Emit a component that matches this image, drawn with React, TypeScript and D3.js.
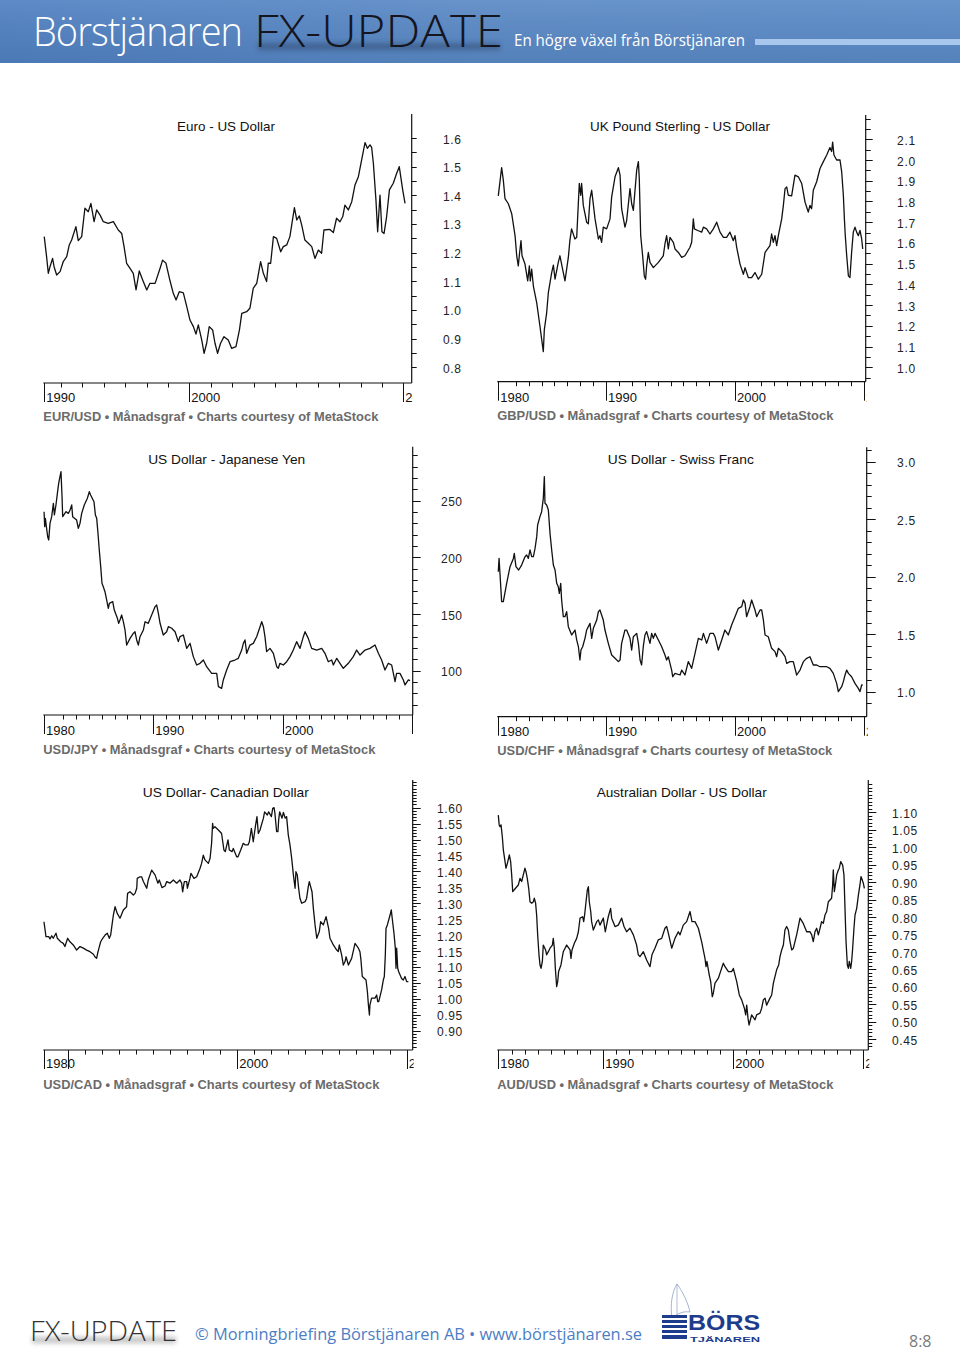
import React from 'react';
import * as d3 from 'd3';

type Pt = [number, number];

// ---------- DATA (year, rate) ----------
const eurUsd: Pt[] = [[1993.22,1.256],[1993.33,1.186],[1993.41,1.128],[1993.49,1.151],[1993.61,1.180],[1993.68,1.151],[1993.80,1.122],[1993.96,1.134],[1994.11,1.169],[1994.27,1.186],[1994.39,1.227],[1994.50,1.244],[1994.70,1.291],[1994.81,1.242],[1994.97,1.256],[1995.12,1.355],[1995.28,1.343],[1995.40,1.372],[1995.55,1.308],[1995.67,1.349],[1995.83,1.331],[1995.98,1.308],[1996.21,1.302],[1996.45,1.308],[1996.68,1.279],[1996.84,1.267],[1996.95,1.221],[1997.07,1.163],[1997.23,1.145],[1997.38,1.128],[1997.51,1.070],[1997.66,1.136],[1997.82,1.105],[1998.01,1.070],[1998.16,1.093],[1998.40,1.093],[1998.63,1.145],[1998.75,1.174],[1998.91,1.163],[1999.07,1.110],[1999.25,1.058],[1999.38,1.035],[1999.53,1.064],[1999.72,1.060],[1999.88,1.012],[2000.03,0.965],[2000.19,0.942],[2000.31,0.916],[2000.42,0.948],[2000.58,0.895],[2000.69,0.849],[2000.81,0.884],[2000.93,0.942],[2001.09,0.930],[2001.20,0.884],[2001.32,0.849],[2001.46,0.884],[2001.62,0.907],[2001.82,0.895],[2001.98,0.866],[2002.18,0.872],[2002.34,0.930],[2002.45,0.988],[2002.68,0.994],[2002.83,1.006],[2002.99,1.076],[2003.15,1.093],[2003.33,1.169],[2003.46,1.128],[2003.61,1.099],[2003.69,1.163],[2003.80,1.163],[2003.93,1.256],[2004.08,1.250],[2004.27,1.203],[2004.39,1.221],[2004.55,1.227],[2004.70,1.256],[2004.91,1.357],[2005.02,1.314],[2005.14,1.328],[2005.25,1.297],[2005.40,1.244],[2005.56,1.233],[2005.72,1.221],[2005.87,1.180],[2006.03,1.209],[2006.18,1.198],[2006.29,1.279],[2006.57,1.281],[2006.73,1.270],[2006.88,1.320],[2007.04,1.308],[2007.17,1.326],[2007.27,1.366],[2007.43,1.349],[2007.59,1.378],[2007.74,1.436],[2007.90,1.465],[2008.05,1.523],[2008.21,1.584],[2008.32,1.564],[2008.44,1.576],[2008.52,1.567],[2008.60,1.512],[2008.72,1.384],[2008.80,1.273],[2008.91,1.401],[2009.00,1.273],[2009.10,1.267],[2009.22,1.326],[2009.35,1.419],[2009.53,1.442],[2009.69,1.477],[2009.81,1.500],[2009.97,1.419],[2010.08,1.372]];

const gbpUsd: Pt[] = [[1981.65,1.827],[1981.91,1.963],[1982.04,1.903],[1982.17,1.814],[1982.43,1.789],[1982.69,1.741],[1982.95,1.635],[1983.08,1.538],[1983.20,1.489],[1983.28,1.538],[1983.41,1.611],[1983.49,1.538],[1983.72,1.498],[1983.93,1.417],[1984.06,1.489],[1984.13,1.417],[1984.24,1.473],[1984.37,1.392],[1984.63,1.311],[1984.88,1.198],[1985.14,1.076],[1985.22,1.182],[1985.40,1.263],[1985.53,1.360],[1985.79,1.457],[1985.92,1.493],[1986.05,1.425],[1986.30,1.506],[1986.43,1.538],[1986.69,1.457],[1986.82,1.417],[1987.08,1.530],[1987.20,1.611],[1987.33,1.668],[1987.59,1.619],[1987.73,1.627],[1987.86,1.797],[1987.93,1.887],[1988.04,1.830],[1988.11,1.887],[1988.24,1.781],[1988.50,1.700],[1988.63,1.692],[1988.76,1.814],[1988.89,1.854],[1989.15,1.716],[1989.41,1.619],[1989.53,1.635],[1989.66,1.603],[1989.79,1.676],[1990.05,1.668],[1990.31,1.716],[1990.44,1.822],[1990.70,1.919],[1990.96,1.963],[1991.09,1.927],[1991.21,1.765],[1991.47,1.676],[1991.60,1.708],[1991.86,1.862],[1991.99,1.789],[1992.12,1.757],[1992.38,1.951],[1992.51,1.992],[1992.58,1.911],[1992.69,1.635],[1992.84,1.538],[1992.97,1.441],[1993.07,1.425],[1993.15,1.489],[1993.28,1.554],[1993.41,1.506],[1993.67,1.481],[1994.06,1.506],[1994.44,1.538],[1994.57,1.595],[1994.70,1.635],[1994.83,1.571],[1994.96,1.627],[1995.22,1.603],[1995.35,1.571],[1995.61,1.554],[1995.87,1.530],[1996.12,1.538],[1996.51,1.579],[1996.64,1.603],[1996.77,1.716],[1996.85,1.668],[1997.11,1.660],[1997.42,1.652],[1997.55,1.676],[1997.80,1.668],[1998.06,1.643],[1998.32,1.668],[1998.58,1.700],[1998.84,1.652],[1999.10,1.627],[1999.35,1.627],[1999.61,1.652],[1999.87,1.611],[2000.00,1.635],[2000.13,1.579],[2000.39,1.498],[2000.65,1.449],[2000.78,1.481],[2001.03,1.433],[2001.29,1.433],[2001.55,1.457],[2001.81,1.425],[2002.07,1.449],[2002.33,1.554],[2002.71,1.587],[2002.84,1.643],[2002.97,1.603],[2003.10,1.635],[2003.23,1.587],[2003.36,1.635],[2003.62,1.716],[2003.75,1.781],[2003.88,1.862],[2004.01,1.870],[2004.13,1.830],[2004.39,1.827],[2004.65,1.927],[2004.91,1.919],[2005.17,1.887],[2005.43,1.797],[2005.68,1.749],[2005.81,1.781],[2005.94,1.765],[2006.07,1.854],[2006.33,1.895],[2006.59,1.959],[2006.85,1.992],[2007.11,2.024],[2007.36,2.060],[2007.49,2.041],[2007.57,2.086],[2007.67,2.024],[2007.88,2.000],[2008.14,2.000],[2008.27,1.943],[2008.40,1.830],[2008.48,1.716],[2008.55,1.635],[2008.66,1.538],[2008.79,1.441],[2008.91,1.433],[2009.04,1.554],[2009.17,1.652],[2009.30,1.676],[2009.43,1.652],[2009.56,1.635],[2009.69,1.660],[2009.82,1.619],[2009.90,1.571]];

const usdJpy: Pt[] = [[1981.55,240.3],[1981.60,227.1],[1981.65,234.4],[1981.83,218.2],[1981.91,215.3],[1982.01,230.0],[1982.14,235.9],[1982.27,247.6],[1982.35,237.4],[1982.47,246.2],[1982.58,256.5],[1982.68,265.3],[1982.78,271.2],[1982.86,275.6],[1982.94,253.5],[1982.99,235.9],[1983.25,240.3],[1983.43,238.8],[1983.56,241.8],[1983.69,246.2],[1983.76,235.9],[1984.07,232.9],[1984.20,225.6],[1984.33,230.0],[1984.46,238.8],[1984.66,246.2],[1984.90,252.1],[1985.05,257.9],[1985.15,255.0],[1985.41,249.1],[1985.52,237.4],[1985.62,234.4],[1985.72,221.2],[1985.82,206.5],[1985.93,191.8],[1986.03,177.1],[1986.13,174.1],[1986.26,169.7],[1986.39,162.4],[1986.52,155.0],[1986.60,159.4],[1986.86,160.9],[1986.98,153.5],[1987.22,146.2],[1987.32,141.8],[1987.42,144.7],[1987.55,149.1],[1987.68,143.2],[1987.81,135.9],[1987.94,122.6],[1988.20,128.5],[1988.45,132.9],[1988.58,134.4],[1988.71,127.1],[1988.84,122.6],[1988.97,130.0],[1989.23,135.9],[1989.36,143.2],[1989.61,141.8],[1989.87,149.1],[1990.13,156.5],[1990.26,157.9],[1990.39,150.6],[1990.52,141.8],[1990.77,131.5],[1991.03,134.4],[1991.16,138.8],[1991.42,137.4],[1991.68,134.4],[1991.93,125.6],[1992.06,130.0],[1992.32,131.5],[1992.58,119.7],[1992.84,124.1],[1993.09,112.4],[1993.35,105.0],[1993.61,106.5],[1993.87,109.4],[1994.12,103.5],[1994.51,97.6],[1994.90,97.6],[1995.03,85.9],[1995.28,84.4],[1995.41,91.8],[1995.67,100.6],[1995.93,107.9],[1996.31,109.4],[1996.57,110.9],[1996.83,118.2],[1996.96,124.1],[1997.09,127.1],[1997.22,115.3],[1997.47,122.6],[1997.73,124.1],[1997.99,130.0],[1998.25,138.8],[1998.38,143.2],[1998.51,138.8],[1998.63,130.0],[1998.76,116.8],[1999.02,119.7],[1999.28,115.3],[1999.54,103.5],[1999.66,102.1],[1999.79,106.5],[2000.05,105.0],[2000.31,107.9],[2000.57,112.4],[2000.82,118.2],[2001.08,125.6],[2001.34,119.7],[2001.60,130.0],[2001.73,134.4],[2001.98,128.5],[2002.24,119.7],[2002.63,118.2],[2003.02,119.7],[2003.27,115.3],[2003.53,107.9],[2003.79,109.4],[2003.92,105.0],[2004.18,110.9],[2004.43,106.5],[2004.69,102.1],[2005.08,106.5],[2005.46,112.4],[2005.72,118.2],[2005.98,113.8],[2006.37,118.2],[2006.75,119.7],[2007.14,122.6],[2007.40,115.3],[2007.65,109.4],[2007.91,100.6],[2008.17,106.5],[2008.43,105.0],[2008.56,97.6],[2008.69,90.3],[2008.81,97.6],[2009.07,97.6],[2009.33,91.8],[2009.46,87.4],[2009.72,91.8],[2009.85,91.2]];

const usdChf: Pt[] = [[1981.65,2.043],[1981.71,2.159],[1981.78,2.029],[1981.91,1.783],[1982.04,1.783],[1982.30,1.942],[1982.56,2.087],[1982.82,2.159],[1982.89,2.203],[1983.02,2.087],[1983.23,2.058],[1983.46,2.101],[1983.72,2.174],[1983.85,2.188],[1983.98,2.159],[1984.11,2.232],[1984.24,2.174],[1984.37,2.174],[1984.50,2.246],[1984.63,2.348],[1984.70,2.449],[1984.88,2.522],[1985.01,2.565],[1985.14,2.681],[1985.22,2.870],[1985.27,2.638],[1985.40,2.623],[1985.53,2.580],[1985.66,2.377],[1985.79,2.232],[1985.92,2.101],[1986.05,2.058],[1986.18,1.942],[1986.30,1.913],[1986.38,1.855],[1986.49,1.942],[1986.56,1.797],[1986.69,1.652],[1986.82,1.652],[1986.95,1.696],[1987.08,1.565],[1987.34,1.493],[1987.60,1.536],[1987.73,1.449],[1987.86,1.391],[1987.98,1.275],[1988.06,1.362],[1988.19,1.391],[1988.37,1.464],[1988.50,1.536],[1988.76,1.594],[1988.89,1.464],[1989.02,1.551],[1989.28,1.623],[1989.41,1.696],[1989.53,1.710],[1989.79,1.623],[1989.92,1.536],[1990.18,1.420],[1990.44,1.319],[1990.70,1.290],[1990.96,1.261],[1991.09,1.275],[1991.21,1.420],[1991.47,1.536],[1991.60,1.536],[1991.86,1.464],[1991.99,1.362],[1992.12,1.478],[1992.38,1.507],[1992.51,1.420],[1992.64,1.275],[1992.76,1.232],[1992.89,1.391],[1993.02,1.493],[1993.15,1.522],[1993.41,1.420],[1993.54,1.507],[1993.67,1.464],[1993.80,1.507],[1994.06,1.449],[1994.32,1.391],[1994.57,1.319],[1994.70,1.275],[1994.83,1.304],[1995.09,1.188],[1995.17,1.130],[1995.35,1.159],[1995.74,1.145],[1995.87,1.188],[1996.12,1.145],[1996.38,1.261],[1996.64,1.203],[1996.90,1.333],[1997.16,1.464],[1997.42,1.449],[1997.55,1.507],[1997.80,1.420],[1998.06,1.507],[1998.32,1.507],[1998.45,1.478],[1998.71,1.362],[1998.97,1.449],[1999.22,1.536],[1999.48,1.493],[1999.74,1.580],[2000.00,1.652],[2000.26,1.725],[2000.52,1.739],[2000.65,1.797],[2000.78,1.768],[2000.90,1.652],[2001.16,1.739],[2001.29,1.797],[2001.55,1.710],[2001.68,1.652],[2001.94,1.710],[2002.07,1.710],[2002.20,1.623],[2002.33,1.493],[2002.58,1.478],[2002.84,1.377],[2003.10,1.348],[2003.23,1.304],[2003.36,1.377],[2003.62,1.348],[2003.88,1.304],[2004.01,1.246],[2004.26,1.261],[2004.52,1.261],[2004.65,1.203],[2004.78,1.145],[2005.04,1.188],[2005.30,1.261],[2005.56,1.290],[2005.81,1.304],[2006.07,1.232],[2006.33,1.232],[2006.59,1.217],[2006.85,1.217],[2007.11,1.217],[2007.36,1.203],[2007.62,1.159],[2007.88,1.072],[2008.01,1.000],[2008.27,1.043],[2008.40,1.087],[2008.53,1.145],[2008.66,1.188],[2008.79,1.159],[2009.04,1.130],[2009.30,1.072],[2009.56,1.029],[2009.69,1.000],[2009.82,1.058],[2009.90,1.058]];

const usdCad: Pt[] = [[1988.58,1.242],[1988.62,1.227],[1988.70,1.195],[1988.86,1.195],[1988.94,1.188],[1989.04,1.198],[1989.13,1.190],[1989.29,1.206],[1989.37,1.190],[1989.57,1.179],[1989.72,1.174],[1989.82,1.164],[1989.98,1.190],[1990.12,1.179],[1990.31,1.169],[1990.51,1.153],[1990.71,1.164],[1990.91,1.159],[1991.10,1.153],[1991.30,1.148],[1991.50,1.140],[1991.59,1.132],[1991.69,1.127],[1991.75,1.143],[1991.83,1.159],[1991.93,1.179],[1992.05,1.190],[1992.19,1.200],[1992.32,1.206],[1992.44,1.190],[1992.52,1.200],[1992.60,1.232],[1992.68,1.263],[1992.78,1.289],[1992.91,1.268],[1993.07,1.253],[1993.27,1.279],[1993.46,1.289],[1993.52,1.331],[1993.66,1.336],[1993.86,1.326],[1993.96,1.331],[1994.06,1.347],[1994.09,1.378],[1994.25,1.383],[1994.35,1.383],[1994.45,1.368],[1994.65,1.347],[1994.74,1.373],[1994.94,1.404],[1995.14,1.389],[1995.31,1.363],[1995.39,1.373],[1995.55,1.349],[1995.73,1.354],[1995.83,1.368],[1996.02,1.363],[1996.22,1.373],[1996.42,1.363],[1996.61,1.373],[1996.71,1.363],[1996.77,1.336],[1996.87,1.368],[1997.01,1.368],[1997.05,1.347],[1997.20,1.378],[1997.26,1.394],[1997.44,1.378],[1997.60,1.383],[1997.80,1.410],[1997.89,1.425],[1997.99,1.451],[1998.09,1.436],[1998.29,1.425],[1998.39,1.441],[1998.48,1.488],[1998.54,1.551],[1998.58,1.535],[1998.68,1.540],[1998.88,1.530],[1999.07,1.519],[1999.21,1.467],[1999.29,1.462],[1999.45,1.499],[1999.53,1.467],[1999.69,1.462],[1999.76,1.472],[1999.96,1.446],[2000.04,1.446],[2000.20,1.467],[2000.35,1.488],[2000.47,1.483],[2000.63,1.483],[2000.71,1.493],[2000.83,1.535],[2000.94,1.493],[2001.08,1.546],[2001.16,1.572],[2001.24,1.519],[2001.34,1.530],[2001.54,1.567],[2001.61,1.587],[2001.77,1.577],[2001.85,1.587],[2002.01,1.572],[2002.09,1.598],[2002.17,1.600],[2002.22,1.582],[2002.32,1.525],[2002.40,1.525],[2002.44,1.561],[2002.50,1.587],[2002.64,1.567],[2002.72,1.585],[2002.83,1.567],[2002.91,1.572],[2003.01,1.514],[2003.11,1.483],[2003.21,1.441],[2003.31,1.389],[2003.41,1.347],[2003.46,1.399],[2003.54,1.389],[2003.62,1.347],[2003.70,1.315],[2003.80,1.300],[2004.00,1.305],[2004.09,1.315],[2004.19,1.352],[2004.25,1.368],[2004.41,1.336],[2004.49,1.284],[2004.59,1.232],[2004.69,1.190],[2004.84,1.211],[2004.92,1.242],[2005.08,1.232],[2005.24,1.258],[2005.39,1.221],[2005.47,1.190],[2005.67,1.169],[2005.87,1.153],[2005.96,1.148],[2006.02,1.169],[2006.16,1.138],[2006.26,1.106],[2006.36,1.117],[2006.42,1.132],[2006.56,1.106],[2006.75,1.127],[2006.95,1.174],[2007.15,1.159],[2007.24,1.148],[2007.30,1.122],[2007.38,1.070],[2007.60,1.059],[2007.68,1.023],[2007.74,0.981],[2007.80,0.949],[2007.83,0.981],[2007.93,1.002],[2008.13,1.002],[2008.23,1.012],[2008.29,0.991],[2008.35,0.991],[2008.52,1.028],[2008.62,1.059],[2008.68,1.070],[2008.74,1.138],[2008.78,1.221],[2008.86,1.232],[2009.02,1.263],[2009.09,1.279],[2009.17,1.242],[2009.25,1.206],[2009.33,1.159],[2009.37,1.096],[2009.41,1.159],[2009.47,1.096],[2009.53,1.085],[2009.70,1.064],[2009.80,1.059],[2009.90,1.070],[2010.00,1.054],[2010.10,1.054]];

const audUsd: Pt[] = [[1981.92,1.092],[1981.99,1.064],[1982.05,1.059],[1982.13,1.064],[1982.23,1.030],[1982.31,0.992],[1982.44,0.959],[1982.51,0.940],[1982.62,0.954],[1982.77,0.978],[1982.87,0.959],[1982.95,0.921],[1983.03,0.873],[1983.23,0.882],[1983.46,0.892],[1983.59,0.911],[1983.72,0.902],[1983.97,0.940],[1984.05,0.930],[1984.15,0.911],[1984.26,0.882],[1984.36,0.844],[1984.49,0.840],[1984.62,0.844],[1984.69,0.854],[1984.79,0.840],[1984.87,0.806],[1984.95,0.749],[1985.05,0.692],[1985.13,0.663],[1985.21,0.653],[1985.31,0.673],[1985.38,0.720],[1985.56,0.706],[1985.64,0.692],[1985.77,0.701],[1985.90,0.711],[1986.08,0.720],[1986.15,0.739],[1986.23,0.711],[1986.31,0.653],[1986.41,0.601],[1986.49,0.615],[1986.56,0.644],[1986.74,0.663],[1986.92,0.701],[1987.18,0.720],[1987.44,0.706],[1987.51,0.682],[1987.59,0.706],[1987.77,0.725],[1987.95,0.739],[1988.08,0.758],[1988.21,0.797],[1988.41,0.801],[1988.49,0.787],[1988.56,0.806],[1988.67,0.844],[1988.77,0.878],[1988.85,0.887],[1988.92,0.844],[1989.03,0.816],[1989.10,0.787],[1989.23,0.763],[1989.49,0.787],[1989.62,0.792],[1989.74,0.777],[1990.00,0.797],[1990.15,0.758],[1990.38,0.801],[1990.56,0.825],[1990.64,0.797],[1990.90,0.773],[1991.15,0.777],[1991.41,0.797],[1991.59,0.773],[1991.79,0.758],[1992.05,0.768],[1992.31,0.749],[1992.56,0.720],[1992.69,0.692],[1992.82,0.687],[1993.08,0.701],[1993.33,0.677],[1993.59,0.658],[1993.74,0.692],[1993.97,0.711],[1994.23,0.735],[1994.49,0.739],[1994.74,0.768],[1994.87,0.773],[1995.00,0.754],[1995.26,0.711],[1995.51,0.739],[1995.77,0.758],[1995.90,0.749],[1996.15,0.777],[1996.41,0.787],[1996.67,0.816],[1996.82,0.787],[1997.05,0.787],[1997.31,0.768],[1997.56,0.730],[1997.82,0.682],[1997.90,0.658],[1997.97,0.673],[1998.15,0.634],[1998.26,0.615],[1998.38,0.572],[1998.46,0.582],[1998.59,0.611],[1998.85,0.625],[1998.97,0.639],[1999.23,0.668],[1999.36,0.658],[1999.62,0.644],[1999.87,0.644],[2000.00,0.653],[2000.26,0.615],[2000.46,0.577],[2000.64,0.563],[2000.85,0.539],[2000.95,0.520],[2001.03,0.548],[2001.13,0.510],[2001.21,0.491],[2001.28,0.501],[2001.41,0.520],[2001.67,0.506],[2001.79,0.520],[2002.05,0.525],[2002.18,0.539],[2002.31,0.563],[2002.44,0.568],[2002.56,0.548],[2002.82,0.568],[2002.95,0.577],[2003.08,0.611],[2003.33,0.649],[2003.49,0.663],[2003.59,0.687],[2003.72,0.706],[2003.85,0.720],[2003.97,0.763],[2004.10,0.773],[2004.23,0.763],[2004.36,0.730],[2004.49,0.706],[2004.62,0.711],[2004.87,0.749],[2005.00,0.773],[2005.13,0.797],[2005.38,0.782],[2005.64,0.758],[2005.90,0.758],[2006.03,0.749],[2006.15,0.730],[2006.28,0.758],[2006.41,0.768],[2006.54,0.749],[2006.67,0.768],[2006.79,0.787],[2006.92,0.782],[2007.05,0.806],[2007.18,0.816],[2007.31,0.844],[2007.56,0.854],[2007.64,0.892],[2007.69,0.935],[2007.77,0.873],[2007.85,0.892],[2007.95,0.921],[2008.08,0.935],[2008.15,0.940],[2008.26,0.959],[2008.41,0.949],[2008.51,0.921],[2008.59,0.825],[2008.67,0.730],[2008.77,0.663],[2008.85,0.653],[2008.92,0.673],[2009.03,0.653],[2009.10,0.673],[2009.18,0.711],[2009.28,0.768],[2009.36,0.806],[2009.49,0.825],[2009.62,0.863],[2009.74,0.892],[2009.82,0.916],[2009.92,0.906],[2010.00,0.897],[2010.08,0.882]];

// ---------- TICK LABELS ----------
const eurYLabels = [0.8, 0.9, 1.0, 1.1, 1.2, 1.3, 1.4, 1.5, 1.6];
const gbpYLabels = [1.0, 1.1, 1.2, 1.3, 1.4, 1.5, 1.6, 1.7, 1.8, 1.9, 2.0, 2.1];
const jpyYLabels = [100, 150, 200, 250];
const chfYLabels = [1.0, 1.5, 2.0, 2.5, 3.0];
const cadYLabels = [0.9, 0.95, 1.0, 1.05, 1.1, 1.15, 1.2, 1.25, 1.3, 1.35, 1.4, 1.45, 1.5, 1.55, 1.6];
const audYLabels = [0.45, 0.5, 0.55, 0.6, 0.65, 0.7, 0.75, 0.8, 0.85, 0.9, 0.95, 1.0, 1.05, 1.1];

const eurXLabels: [number, string][] = [[1993.22, '1990'], [2000, '2000'], [2010, '2010']];
const gbpXLabels: [number, string][] = [[1981.65, '1980'], [1990, '1990'], [2000, '2000'], [2010, '2010']];
const jpyXLabels: [number, string][] = [[1981.55, '1980'], [1990, '1990'], [2000, '2000'], [2010, '2010']];
const chfXLabels: [number, string][] = [[1981.65, '1980'], [1990, '1990'], [2000, '2000'], [2010, '2010']];
const cadXLabels: [number, string][] = [[1988.58, '1980'], [1990, ''], [2000, '2000'], [2010, '2010']];
const audXLabels: [number, string][] = [[1981.92, '1980'], [1990, '1990'], [2000, '2000'], [2010, '2010']];

const FONT = "'Liberation Sans', Arial, Helvetica, sans-serif";
const HFONT = "'Open Sans', 'DejaVu Sans', sans-serif";

interface Spec {
  id: string;
  title: string; titleX: number; titleY: number; titleW: number;
  caption: string; captionW: number; captionY: number;
  data: Pt[];
  xLabels: [number, string][];
  yLabels: number[]; fmt: string;
  xPx: [number, number];
  yDom: [number, number]; yPx: [number, number];
  left: number; right: number; top: number; base: number;
  minor: [number, number, number];
  majorLen: number; minorLen: number;
  labelX: number; labelSpacing: number;
  xLabelY: number;
}

const specs: Spec[] = [
  { id: 'eur', title: 'Euro - US Dollar', titleX: 226, titleY: 131, titleW: 98,
    caption: 'EUR/USD • Månadsgraf • Charts courtesy of MetaStock', captionW: 335, captionY: 420.5,
    data: eurUsd, xLabels: eurXLabels, yLabels: eurYLabels, fmt: '.1f',
    xPx: [189.33, 403.33], yDom: [0.8, 1.6], yPx: [367.33, 138],
    left: 43.3, right: 411.7, top: 114, base: 383, minor: [0.8, 1.6, 0.05],
    majorLen: 5, minorLen: 5, labelX: 443, labelSpacing: 0.6, xLabelY: 401.7 },
  { id: 'gbp', title: 'UK Pound Sterling - US Dollar', titleX: 680, titleY: 131, titleW: 180,
    caption: 'GBP/USD • Månadsgraf • Charts courtesy of MetaStock', captionW: 336, captionY: 420,
    data: gbpUsd, xLabels: gbpXLabels, yLabels: gbpYLabels, fmt: '.1f',
    xPx: [735, 864], yDom: [1.0, 2.0], yPx: [367.33, 160],
    left: 497.3, right: 865.7, top: 115, base: 381.7, minor: [0.95, 2.2, 0.05],
    majorLen: 7, minorLen: 5, labelX: 897, labelSpacing: 0.8, xLabelY: 401.7 },
  { id: 'jpy', title: 'US Dollar - Japanese Yen', titleX: 226.7, titleY: 464, titleW: 157,
    caption: 'USD/JPY • Månadsgraf • Charts courtesy of MetaStock', captionW: 332, captionY: 753.5,
    data: usdJpy, xLabels: jpyXLabels, yLabels: jpyYLabels, fmt: 'd',
    xPx: [282.67, 412], yDom: [100, 250], yPx: [670.67, 500.67],
    left: 43.3, right: 412.7, top: 446.7, base: 715, minor: [70, 290, 10],
    majorLen: 8, minorLen: 5, labelX: 441, labelSpacing: 0.5, xLabelY: 735 },
  { id: 'chf', title: 'US Dollar - Swiss Franc', titleX: 680.8, titleY: 464, titleW: 146,
    caption: 'USD/CHF • Månadsgraf • Charts courtesy of MetaStock', captionW: 335, captionY: 755,
    data: usdChf, xLabels: chfXLabels, yLabels: chfYLabels, fmt: '.1f',
    xPx: [735, 864], yDom: [1.0, 3.0], yPx: [691.67, 461.67],
    left: 497.3, right: 866.7, top: 447.3, base: 716.7, minor: [0.9, 3.1, 0.1],
    majorLen: 9, minorLen: 5, labelX: 897, labelSpacing: 0.8, xLabelY: 736 },
  { id: 'cad', title: 'US Dollar- Canadian Dollar', titleX: 225.8, titleY: 797, titleW: 166,
    caption: 'USD/CAD • Månadsgraf • Charts courtesy of MetaStock', captionW: 336, captionY: 1088.5,
    data: usdCad, xLabels: cadXLabels, yLabels: cadYLabels, fmt: '.2f',
    xPx: [237.33, 406.67], yDom: [0.9, 1.6], yPx: [1030.67, 807.67],
    left: 43.3, right: 412.7, top: 780, base: 1050, minor: [0.84, 1.68, 0.01],
    majorLen: 8, minorLen: 4, labelX: 437, labelSpacing: 0.6, xLabelY: 1068.3 },
  { id: 'aud', title: 'Australian Dollar - US Dollar', titleX: 681.7, titleY: 797, titleW: 170,
    caption: 'AUD/USD • Månadsgraf • Charts courtesy of MetaStock', captionW: 336, captionY: 1088.5,
    data: audUsd, xLabels: audXLabels, yLabels: audYLabels, fmt: '.2f',
    xPx: [733.33, 863.33], yDom: [0.45, 1.1], yPx: [1039.33, 812.33],
    left: 497.3, right: 868.3, top: 780, base: 1050, minor: [0.43, 1.19, 0.01],
    majorLen: 8, minorLen: 4, labelX: 892, labelSpacing: 0.6, xLabelY: 1068.3 },
];

function Chart({ s }: { s: Spec }) {
  const x = d3.scaleLinear().domain([2000, 2010]).range(s.xPx);
  const y = d3.scaleLinear().domain(s.yDom).range(s.yPx);
  const line = d3.line<Pt>().x(d => x(d[0])).y(d => y(d[1]));
  const fmt = d3.format(s.fmt);
  const [m0, m1, step] = s.minor;
  const n = Math.round((m1 - m0) / step);
  const minorVals = d3.range(0, n + 1).map(i => +(m0 + i * step).toFixed(4))
    .filter(v => y(v) > s.top + 2 && y(v) < s.base - 2);
  const isMajor = (v: number) => s.yLabels.some(l => Math.abs(l - v) < 1e-6);
  const startYear = s.data[0][0];
  const minorYears = d3.range(Math.ceil(startYear), 2010)
    .filter(yr => !s.xLabels.some(l => Math.abs(l[0] - yr) < 0.01) && x(yr) - x(startYear) > 9);
  const clipId = `clip-${s.id}`;
  return (
    <g>
      <defs>
        <clipPath id={clipId}>
          <rect x={s.left - 5} y={s.base} width={s.right - s.left + 6} height={30} />
        </clipPath>
      </defs>
      <text x={s.titleX} y={s.titleY} textAnchor="middle" fontFamily={FONT} fontSize={13}
        fill="#111" textLength={s.titleW} lengthAdjust="spacingAndGlyphs">{s.title}</text>
      <line x1={s.right} x2={s.right} y1={s.top} y2={s.base} stroke="#111" strokeWidth={1.2} />
      <line x1={s.left} x2={s.right} y1={s.base} y2={s.base} stroke="#111" strokeWidth={1.2} />
      {minorVals.map(v => (
        <line key={'yt' + v} x1={s.right} x2={s.right + (isMajor(v) ? s.majorLen : s.minorLen)}
          y1={Math.round(y(v)) + 0.5} y2={Math.round(y(v)) + 0.5} stroke="#111" strokeWidth={1} />
      ))}
      {s.yLabels.map(v => (
        <text key={'yl' + v} x={s.labelX} y={y(v) + 1.5} dominantBaseline="central"
          fontFamily={FONT} fontSize={12} fill="#222" letterSpacing={s.labelSpacing}>{fmt(v)}</text>
      ))}
      {minorYears.map(yr => (
        <line key={'xt' + yr} x1={Math.round(x(yr)) + 0.5} x2={Math.round(x(yr)) + 0.5}
          y1={s.base} y2={s.base + 4.5} stroke="#111" strokeWidth={1} />
      ))}
      <g clipPath={`url(#${clipId})`}>
        {s.xLabels.map(([yr, lab]) => (
          <g key={'xl' + yr}>
            <line x1={Math.round(x(yr)) + 0.5} x2={Math.round(x(yr)) + 0.5} y1={s.base} y2={s.base + 19}
              stroke="#111" strokeWidth={1} />
            {lab && <text x={x(yr) + 2} y={s.xLabelY} fontFamily={FONT} fontSize={13} fill="#111">{lab}</text>}
          </g>
        ))}
      </g>
      <path d={line(s.data) || ''} fill="none" stroke="#111" strokeWidth={1.3} strokeLinejoin="round" />
      <text x={s.left} y={s.captionY} fontFamily={FONT} fontSize={13} fontWeight="bold" fill="#6b6b6b"
        textLength={s.captionW} lengthAdjust="spacingAndGlyphs">{s.caption}</text>
    </g>
  );
}

export default function App() {
  return (
    <svg width={960} height={1357} style={{ position: 'absolute', left: 0, top: 0, background: '#fff' }}>
      <defs>
        <linearGradient id="hdr" x1="0" y1="0" x2="1" y2="0">
          <stop offset="0" stopColor="#5081c2" />
          <stop offset="0.5" stopColor="#5a89c6" />
          <stop offset="1" stopColor="#5b8bc8" />
        </linearGradient>
        <linearGradient id="hdrV" x1="0" y1="0" x2="0" y2="1">
          <stop offset="0" stopColor="#ffffff" stopOpacity="0.08" />
          <stop offset="1" stopColor="#000000" stopOpacity="0.06" />
        </linearGradient>
        <filter id="blur" x="-20%" y="-100%" width="140%" height="300%">
          <feGaussianBlur stdDeviation="2.5" />
        </filter>
      </defs>
      {/* header */}
      <rect x={0} y={0} width={960} height={63} fill="url(#hdr)" />
      <rect x={0} y={0} width={960} height={63} fill="url(#hdrV)" />
      <rect x={258} y={43} width={242} height={7} fill="#1a2a45" opacity={0.35} filter="url(#blur)" />
      <text x={33} y={46} fontFamily={HFONT} fontWeight={300} fontSize={40} letterSpacing={-1}
        fill="#ffffff" textLength={209} lengthAdjust="spacingAndGlyphs">Börstjänaren</text>
      <text x={254} y={47} fontFamily={HFONT} fontWeight={300} fontSize={45}
        fill="#15151f" textLength={249} lengthAdjust="spacingAndGlyphs">FX-UPDATE</text>
      <text x={514} y={46} fontFamily={HFONT} fontSize={16}
        fill="#ffffff" textLength={231} lengthAdjust="spacingAndGlyphs">En högre växel från Börstjänaren</text>
      <rect x={755} y={39} width={205} height={6} fill="#a9c6ec" />

      {specs.map(s => <Chart key={s.id} s={s} />)}

      {/* footer */}
      <rect x={32} y={1337} width={144} height={6} fill="#777" opacity={0.45} filter="url(#blur)" />
      <text x={30} y={1341} fontFamily={HFONT} fontWeight={300} fontSize={28}
        fill="#333" textLength={147} lengthAdjust="spacingAndGlyphs">FX-UPDATE</text>
      <text x={195} y={1340} fontFamily={HFONT} fontSize={17}
        fill="#4d7dc4" textLength={447} lengthAdjust="spacingAndGlyphs">© Morningbriefing Börstjänaren AB • www.börstjänaren.se</text>
      <g>
        <path d="M672,1318 C670,1305 672,1292 677,1284 C683,1292 688,1303 690,1312 C684,1311 678,1313 672,1318 Z"
          fill="none" stroke="#9aaccc" strokeWidth={0.9} />
        <line x1={677} y1={1284} x2={677} y2={1317} stroke="#9aaccc" strokeWidth={0.8} />
        {[1315, 1320, 1325, 1330].map(yy => (
          <rect key={yy} x={662} y={yy} width={25} height={3} fill="#1e3c8c" />
        ))}
        <rect x={662} y={1335} width={25} height={4} fill="#1e3c8c" />
        <text x={688} y={1330} fontFamily={FONT} fontWeight="bold" fontSize={22} fill="#1e3c8c"
          textLength={72} lengthAdjust="spacingAndGlyphs">BÖRS</text>
        <text x={690} y={1342} fontFamily={FONT} fontWeight="bold" fontSize={8} fill="#1e3c8c"
          textLength={70} lengthAdjust="spacingAndGlyphs">TJÄNAREN</text>
      </g>
      <text x={909} y={1347} fontFamily={HFONT} fontSize={16} fill="#7a7a7a">8:8</text>
    </svg>
  );
}
